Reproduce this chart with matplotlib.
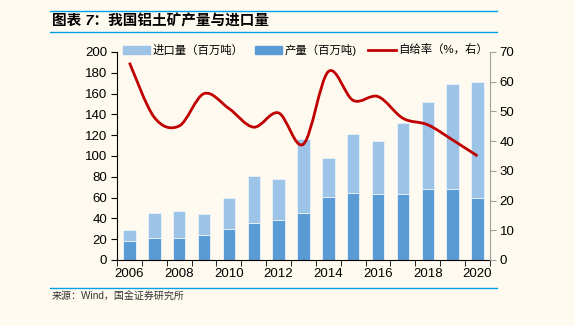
import numpy as np
import matplotlib
matplotlib.use("Agg")
import matplotlib.pyplot as plt
from matplotlib.path import Path
from matplotlib.patches import PathPatch
from matplotlib.lines import Line2D

plt.rcParams['font.family'] = ['Liberation Sans', 'Noto Sans CJK SC']

years = list(range(2006, 2021))
total = [28.5, 45, 47, 44.5, 60, 81, 78, 116, 98, 121, 114.5, 131.5, 151.5, 169, 171.5]
production = [18.5, 21.5, 21.5, 24.5, 30, 36, 38.5, 45.5, 61, 64.5, 63, 63, 68.5, 68.5, 60]
imports = [t - p for t, p in zip(total, production)]
self_rate = [66.4, 48, 45.1, 56, 51, 44.7, 49.5, 39, 63.4, 53.7, 55, 47.7, 45.5, 40.4, 35]

BG = '#FFFAF0'
LIGHT = '#9DC3E6'
DARK = '#5B9BD5'
RED = '#C00000'
BLUE_LINE = '#00A0E9'

fig = plt.figure(figsize=(5.75, 3.26), dpi=100, facecolor=BG)
ax = fig.add_axes([0.2035, 0.2025, 0.6485, 0.638])
ax.set_facecolor(BG)
ax2 = ax.twinx()

x = np.arange(len(years))
ax.bar(x, production, width=0.5, color=DARK, edgecolor='#EAF2FA', linewidth=0.6, zorder=2)
ax.bar(x, imports, width=0.5, bottom=production, color=LIGHT, edgecolor='#EAF2FA', linewidth=0.6, zorder=2)

# smoothed line (Catmull-Rom style bezier through the data points)
pts = np.column_stack([x, self_rate]).astype(float)
verts = [tuple(pts[0])]
codes = [Path.MOVETO]
for i in range(len(pts) - 1):
    p0 = pts[i - 1] if i > 0 else pts[i]
    p1 = pts[i]
    p2 = pts[i + 1]
    p3 = pts[i + 2] if i + 2 < len(pts) else pts[i + 1]
    c1 = p1 + (p2 - p0) / 6.0
    c2 = p2 - (p3 - p1) / 6.0
    verts += [tuple(c1), tuple(c2), tuple(p2)]
    codes += [Path.CURVE4] * 3
ax2.add_patch(PathPatch(Path(verts, codes), facecolor='none', edgecolor=RED, linewidth=2, zorder=3))

ax.set_xlim(-0.5, len(years) - 0.5)
ax.set_ylim(0, 200)
ax2.set_ylim(0, 70)
ax.set_yticks(range(0, 201, 20))
ax2.set_yticks(range(0, 71, 10))
ax.set_xticks(x[::2])
ax.set_xticklabels([str(y) for y in years[::2]])
ax.set_xticks(np.arange(-0.5, len(years), 1), minor=True)
ax.tick_params(axis='x', which='major', length=0, labelsize=9.5, pad=6)
ax.tick_params(axis='x', which='minor', length=4, direction='out', color='black')
ax.tick_params(axis='y', labelsize=9.5, length=4, direction='out', pad=3)
ax2.tick_params(axis='y', labelsize=9.5, length=4, direction='out', color='#A0A0A0', pad=3)

for a in (ax, ax2):
    a.spines['top'].set_visible(False)
ax.spines['right'].set_visible(False)
ax2.spines['left'].set_visible(False)
ax2.spines['bottom'].set_visible(False)
ax2.spines['right'].set_color('#A0A0A0')
ax.spines['left'].set_color('black')
ax.spines['bottom'].set_color('black')

handles = [
    plt.Rectangle((0, 0), 1, 1, color=LIGHT),
    plt.Rectangle((0, 0), 1, 1, color=DARK),
    Line2D([0], [0], color=RED, linewidth=2),
]
labels = ['进口量（百万吨）', '产量（百万吨)', '自给率（%，右）']
ax.legend(handles, labels, loc='center', bbox_to_anchor=(0.505, 1.01), ncol=3,
          frameon=False, fontsize=8.2, handlelength=2.4, handleheight=0.6,
          handletextpad=0.2, columnspacing=1.0, borderpad=0, borderaxespad=0)

# header / footer
fig.add_artist(Line2D([50 / 575, 497 / 575], [1 - 11 / 326, 1 - 11 / 326], color=BLUE_LINE, linewidth=1))
fig.add_artist(Line2D([50 / 575, 497 / 575], [1 - 32 / 326, 1 - 32 / 326], color=BLUE_LINE, linewidth=1))
fig.add_artist(Line2D([50 / 575, 497 / 575], [1 - 288 / 326, 1 - 288 / 326], color=BLUE_LINE, linewidth=1))
fig.text(52 / 575, 1 - 21.5 / 326, '图表 7：我国铝土矿产量与进口量', fontsize=10.5, fontweight='bold',
         fontstyle='italic', va='center', ha='left')
fig.text(52 / 575, 1 - 297 / 326, '来源：Wind，国金证券研究所', fontsize=7.2, va='center', ha='left', color='#333333')

fig.savefig('out.png', dpi=100, facecolor=BG)
